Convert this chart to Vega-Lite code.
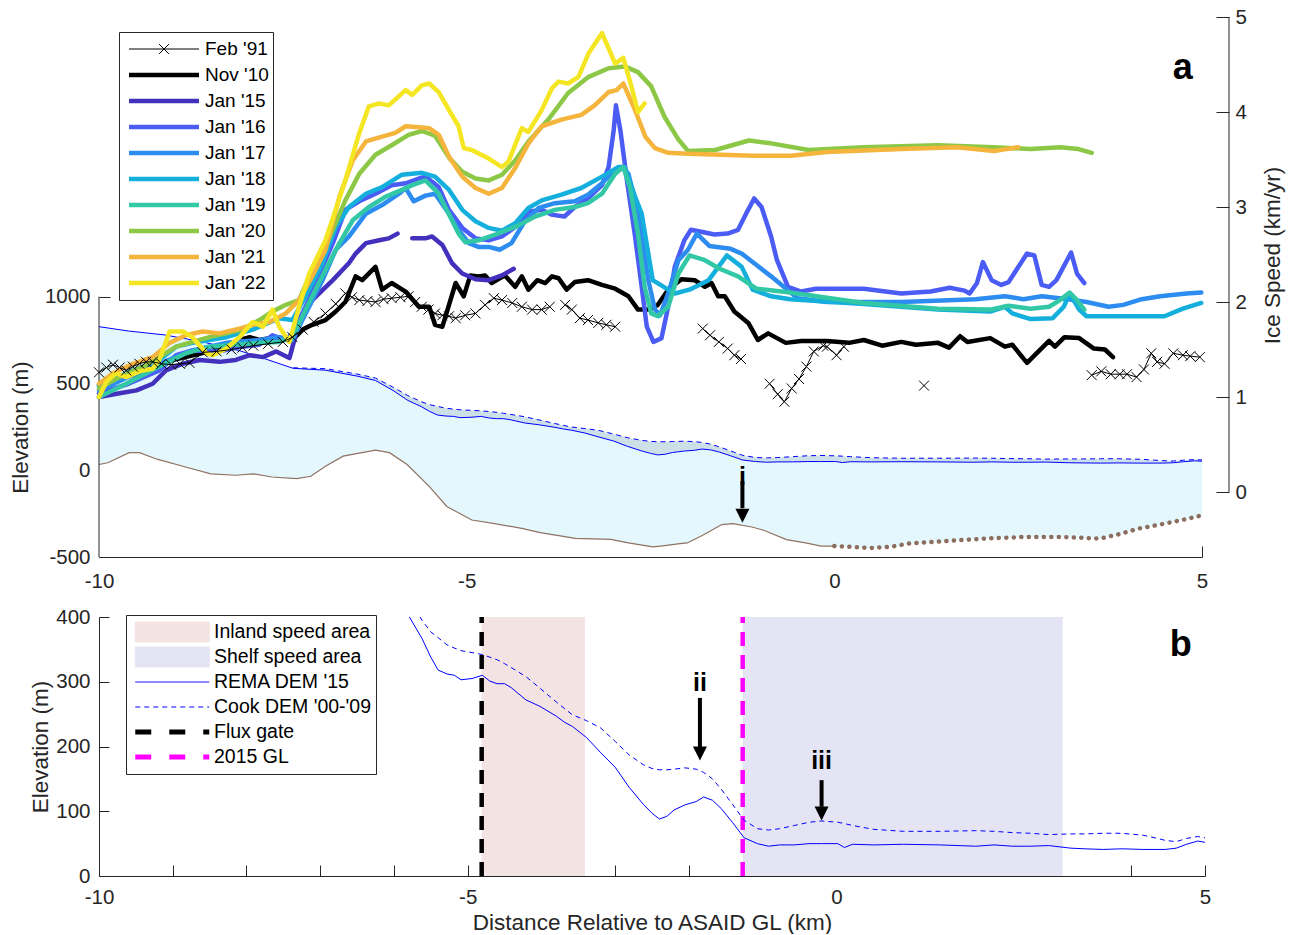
{
"$schema":"https://vega.github.io/schema/vega-lite/v6.json",
"padding":{"left":9,"top":7,"right":5,"bottom":0},
"spacing":15,
"config":{"font":"Liberation Sans","view":{"stroke":null},
"axis":{"domainColor":"#262626","tickColor":"#262626","labelColor":"#262626","titleColor":"#262626","labelFontSize":20.5,"titleFontSize":22.5,"titleFontWeight":"normal","labelFont":"Liberation Sans","titleFont":"Liberation Sans","grid":false,"zindex":1,"labelFlush":false,"labelOverlap":false},
"legend":{"labelFont":"Liberation Sans","labelColor":"#000000"}},
"resolve":{"scale":{"x":"independent","y":"independent","color":"independent"},"legend":{"color":"independent"}},
"datasets":{
"surf":[
{"k":-10,"r":827,"c":null},{"k":-9.6,"r":802,"c":null},{"k":-9.1,"r":779,"c":null},{"k":-8.6,"r":740,"c":null},{"k":-8.1,"r":690,"c":null},{"k":-7.75,"r":643,"c":null},{"k":-7.36,"r":587,"c":590},{"k":-6.92,"r":576,"c":585},{"k":-6.5,"r":543,"c":555},{"k":-6.24,"r":517,"c":531},{"k":-6.0,"r":459,"c":478},{"k":-5.8,"r":402,"c":430},{"k":-5.62,"r":367,"c":395},{"k":-5.5,"r":338,"c":377},{"k":-5.4,"r":318,"c":368},{"k":-5.28,"r":312,"c":357},{"k":-5.18,"r":310,"c":352},{"k":-5.09,"r":303,"c":348},{"k":-4.94,"r":305,"c":345},{"k":-4.8,"r":310,"c":342},{"k":-4.7,"r":301,"c":338},{"k":-4.6,"r":297,"c":334},{"k":-4.5,"r":297,"c":328},{"k":-4.41,"r":291,"c":322},{"k":-4.21,"r":272,"c":308},{"k":-4.02,"r":262,"c":290},{"k":-3.8,"r":247,"c":269},{"k":-3.68,"r":237,"c":258},{"k":-3.58,"r":231,"c":249},{"k":-3.39,"r":214,"c":240},{"k":-3.2,"r":191,"c":229},{"k":-3.0,"r":168,"c":208},{"k":-2.81,"r":137,"c":187},{"k":-2.62,"r":111,"c":172},{"k":-2.5,"r":97,"c":166},{"k":-2.4,"r":88,"c":164},{"k":-2.3,"r":92,"c":164},{"k":-2.2,"r":102,"c":165},{"k":-2.05,"r":110,"c":167},{"k":-1.9,"r":115,"c":165},{"k":-1.8,"r":122,"c":160},{"k":-1.68,"r":117,"c":150},{"k":-1.56,"r":104,"c":134},{"k":-1.41,"r":83,"c":111},{"k":-1.25,"r":59,"c":86},{"k":-1.07,"r":50,"c":73},{"k":-0.92,"r":46,"c":71},{"k":-0.77,"r":48,"c":73},{"k":-0.57,"r":48,"c":78},{"k":-0.37,"r":50,"c":83},{"k":-0.2,"r":50,"c":85},{"k":0.02,"r":50,"c":83},{"k":0.11,"r":44,"c":81},{"k":0.22,"r":49,"c":78},{"k":0.51,"r":48,"c":72},{"k":0.91,"r":49,"c":69},{"k":1.4,"r":48,"c":69},{"k":1.89,"r":46,"c":70},{"k":2.14,"r":48,"c":69},{"k":2.39,"r":46,"c":67},{"k":2.63,"r":46,"c":66},{"k":2.88,"r":47,"c":64},{"k":3.18,"r":43,"c":65},{"k":3.37,"r":42,"c":65},{"k":3.62,"r":41,"c":66},{"k":3.87,"r":42,"c":66},{"k":4.16,"r":41,"c":63},{"k":4.36,"r":41,"c":58},{"k":4.46,"r":41,"c":55},{"k":4.61,"r":43,"c":53},{"k":4.75,"r":49,"c":58},{"k":4.9,"r":54,"c":61},{"k":5.0,"r":52,"c":59}],
"bed":[
{"k":-10,"b":33,"p":"s"},{"k":-9.88,"b":43,"p":"s"},{"k":-9.59,"b":101,"p":"s"},{"k":-9.45,"b":101,"p":"s"},{"k":-9.2,"b":62,"p":"s"},{"k":-8.86,"b":23,"p":"s"},{"k":-8.48,"b":-21,"p":"s"},{"k":-8.14,"b":-29,"p":"s"},{"k":-7.9,"b":-21,"p":"s"},{"k":-7.65,"b":-39,"p":"s"},{"k":-7.31,"b":-48,"p":"s"},{"k":-7.12,"b":-35,"p":"s"},{"k":-6.92,"b":23,"p":"s"},{"k":-6.68,"b":81,"p":"s"},{"k":-6.24,"b":116,"p":"s"},{"k":-6.05,"b":101,"p":"s"},{"k":-5.81,"b":33,"p":"s"},{"k":-5.51,"b":-93,"p":"s"},{"k":-5.27,"b":-209,"p":"s"},{"k":-4.93,"b":-287,"p":"s"},{"k":-4.64,"b":-306,"p":"s"},{"k":-4.25,"b":-335,"p":"s"},{"k":-4.0,"b":-360,"p":"s"},{"k":-3.52,"b":-393,"p":"s"},{"k":-3.04,"b":-399,"p":"s"},{"k":-2.8,"b":-419,"p":"s"},{"k":-2.47,"b":-442,"p":"s"},{"k":-2.36,"b":-437,"p":"s"},{"k":-2.1,"b":-423,"p":"s"},{"k":-2.0,"b":-419,"p":"s"},{"k":-1.79,"b":-375,"p":"s"},{"k":-1.53,"b":-313,"p":"s"},{"k":-1.38,"b":-308,"p":"s"},{"k":-1.12,"b":-327,"p":"s"},{"k":-0.96,"b":-346,"p":"s"},{"k":-0.65,"b":-400,"p":"s"},{"k":-0.39,"b":-419,"p":"s"},{"k":-0.18,"b":-437,"p":"s"},{"k":0,"b":-437,"p":"s"},
{"k":0,"b":-437,"p":"d"},{"k":0.49,"b":-448,"p":"d"},{"k":0.75,"b":-442,"p":"d"},{"k":1.01,"b":-423,"p":"d"},{"k":1.53,"b":-408,"p":"d"},{"k":2.05,"b":-394,"p":"d"},{"k":2.57,"b":-385,"p":"d"},{"k":3.09,"b":-385,"p":"d"},{"k":3.61,"b":-394,"p":"d"},{"k":3.87,"b":-369,"p":"d"},{"k":4.13,"b":-337,"p":"d"},{"k":4.44,"b":-312,"p":"d"},{"k":4.75,"b":-285,"p":"d"},{"k":5.0,"b":-260,"p":"d"}],
"arrA":[{"k":-1.25,"a1":-62,"a2":-219,"hy":-262,"ty":-38,"t":"i"}],
"arrB":[{"k":-1.85,"a1":275,"a2":199,"hy":189,"ty":298,"t":"ii"},{"k":-0.2,"a1":148,"a2":107,"hy":96.5,"ty":178,"t":"iii"}],
"zones":[{"item":"Inland speed area","k1":-4.81,"k2":-3.41},{"item":"Shelf speed area","k1":-1.27,"k2":3.07}],
"gates":[{"item":"Flux gate","k":-4.81},{"item":"2015 GL","k":-1.27}],
"spd":[
{"s":"Nov '10","g":0,"k":-10,"v":1.13},{"s":"Nov '10","g":0,"k":-9.54,"v":1.23},{"s":"Nov '10","g":0,"k":-9.0,"v":1.39},{"s":"Nov '10","g":0,"k":-8.45,"v":1.49},{"s":"Nov '10","g":0,"k":-8.09,"v":1.6},{"s":"Nov '10","g":0,"k":-7.95,"v":1.63},{"s":"Nov '10","g":0,"k":-7.82,"v":1.6},{"s":"Nov '10","g":0,"k":-7.68,"v":1.62},{"s":"Nov '10","g":0,"k":-7.55,"v":1.62},{"s":"Nov '10","g":0,"k":-7.37,"v":1.6},{"s":"Nov '10","g":0,"k":-7.23,"v":1.71},{"s":"Nov '10","g":0,"k":-7.1,"v":1.76},{"s":"Nov '10","g":0,"k":-6.92,"v":1.81},{"s":"Nov '10","g":0,"k":-6.78,"v":1.9},{"s":"Nov '10","g":0,"k":-6.65,"v":2.0},{"s":"Nov '10","g":0,"k":-6.51,"v":2.27},{"s":"Nov '10","g":0,"k":-6.42,"v":2.23},{"s":"Nov '10","g":0,"k":-6.24,"v":2.37},{"s":"Nov '10","g":0,"k":-6.15,"v":2.13},{"s":"Nov '10","g":0,"k":-6.02,"v":2.2},{"s":"Nov '10","g":0,"k":-5.83,"v":2.11},{"s":"Nov '10","g":0,"k":-5.65,"v":1.95},{"s":"Nov '10","g":0,"k":-5.51,"v":1.95},{"s":"Nov '10","g":0,"k":-5.43,"v":1.76},{"s":"Nov '10","g":0,"k":-5.33,"v":1.74},{"s":"Nov '10","g":0,"k":-5.15,"v":2.2},{"s":"Nov '10","g":0,"k":-5.04,"v":2.06},{"s":"Nov '10","g":0,"k":-4.95,"v":2.28},{"s":"Nov '10","g":0,"k":-4.84,"v":2.27},{"s":"Nov '10","g":0,"k":-4.75,"v":2.28},{"s":"Nov '10","g":0,"k":-4.66,"v":2.2},{"s":"Nov '10","g":0,"k":-4.48,"v":2.28},{"s":"Nov '10","g":0,"k":-4.34,"v":2.16},{"s":"Nov '10","g":0,"k":-4.25,"v":2.27},{"s":"Nov '10","g":0,"k":-4.16,"v":2.13},{"s":"Nov '10","g":0,"k":-4.04,"v":2.23},{"s":"Nov '10","g":0,"k":-3.93,"v":2.2},{"s":"Nov '10","g":0,"k":-3.84,"v":2.27},{"s":"Nov '10","g":0,"k":-3.75,"v":2.25},{"s":"Nov '10","g":0,"k":-3.64,"v":2.13},{"s":"Nov '10","g":0,"k":-3.53,"v":2.21},{"s":"Nov '10","g":0,"k":-3.35,"v":2.23},{"s":"Nov '10","g":0,"k":-3.16,"v":2.18},{"s":"Nov '10","g":0,"k":-2.98,"v":2.14},{"s":"Nov '10","g":0,"k":-2.8,"v":2.06},{"s":"Nov '10","g":0,"k":-2.67,"v":1.92},{"s":"Nov '10","g":0,"k":-2.53,"v":1.92},{"s":"Nov '10","g":0,"k":-2.4,"v":1.97},{"s":"Nov '10","g":0,"k":-2.26,"v":2.13},{"s":"Nov '10","g":0,"k":-2.08,"v":2.24},{"s":"Nov '10","g":0,"k":-1.9,"v":2.23},{"s":"Nov '10","g":0,"k":-1.76,"v":2.16},{"s":"Nov '10","g":0,"k":-1.67,"v":2.2},{"s":"Nov '10","g":0,"k":-1.58,"v":2.06},{"s":"Nov '10","g":0,"k":-1.49,"v":2.06},{"s":"Nov '10","g":0,"k":-1.36,"v":1.9},{"s":"Nov '10","g":0,"k":-1.17,"v":1.78},{"s":"Nov '10","g":0,"k":-1.04,"v":1.6},{"s":"Nov '10","g":0,"k":-0.9,"v":1.67},{"s":"Nov '10","g":0,"k":-0.66,"v":1.57},{"s":"Nov '10","g":0,"k":-0.45,"v":1.59},{"s":"Nov '10","g":0,"k":-0.1,"v":1.59},{"s":"Nov '10","g":0,"k":0.2,"v":1.57},{"s":"Nov '10","g":0,"k":0.4,"v":1.6},{"s":"Nov '10","g":0,"k":0.65,"v":1.54},{"s":"Nov '10","g":0,"k":0.91,"v":1.58},{"s":"Nov '10","g":0,"k":1.11,"v":1.55},{"s":"Nov '10","g":0,"k":1.41,"v":1.57},{"s":"Nov '10","g":0,"k":1.56,"v":1.52},{"s":"Nov '10","g":0,"k":1.71,"v":1.64},{"s":"Nov '10","g":0,"k":1.81,"v":1.58},{"s":"Nov '10","g":0,"k":2.12,"v":1.62},{"s":"Nov '10","g":0,"k":2.32,"v":1.53},{"s":"Nov '10","g":0,"k":2.42,"v":1.55},{"s":"Nov '10","g":0,"k":2.62,"v":1.36},{"s":"Nov '10","g":0,"k":2.92,"v":1.59},{"s":"Nov '10","g":0,"k":3.0,"v":1.53},{"s":"Nov '10","g":0,"k":3.13,"v":1.63},{"s":"Nov '10","g":0,"k":3.33,"v":1.62},{"s":"Nov '10","g":0,"k":3.53,"v":1.51},{"s":"Nov '10","g":0,"k":3.68,"v":1.5},{"s":"Nov '10","g":0,"k":3.79,"v":1.42},
{"s":"Jan '15","g":0,"k":-10,"v":1.0},{"s":"Jan '15","g":0,"k":-9.72,"v":1.04},{"s":"Jan '15","g":0,"k":-9.49,"v":1.07},{"s":"Jan '15","g":0,"k":-9.27,"v":1.14},{"s":"Jan '15","g":0,"k":-9.09,"v":1.28},{"s":"Jan '15","g":0,"k":-8.86,"v":1.35},{"s":"Jan '15","g":0,"k":-8.63,"v":1.39},{"s":"Jan '15","g":0,"k":-8.36,"v":1.37},{"s":"Jan '15","g":0,"k":-8.14,"v":1.39},{"s":"Jan '15","g":0,"k":-7.95,"v":1.44},{"s":"Jan '15","g":0,"k":-7.77,"v":1.42},{"s":"Jan '15","g":0,"k":-7.59,"v":1.48},{"s":"Jan '15","g":0,"k":-7.41,"v":1.41},{"s":"Jan '15","g":0,"k":-7.28,"v":1.78},{"s":"Jan '15","g":0,"k":-7.1,"v":2.02},{"s":"Jan '15","g":0,"k":-6.82,"v":2.23},{"s":"Jan '15","g":0,"k":-6.6,"v":2.41},{"s":"Jan '15","g":0,"k":-6.51,"v":2.51},{"s":"Jan '15","g":0,"k":-6.37,"v":2.62},{"s":"Jan '15","g":0,"k":-6.19,"v":2.65},{"s":"Jan '15","g":0,"k":-6.06,"v":2.67},{"s":"Jan '15","g":0,"k":-5.94,"v":2.72},
{"s":"Jan '15","g":1,"k":-5.74,"v":2.67},{"s":"Jan '15","g":1,"k":-5.56,"v":2.67},{"s":"Jan '15","g":1,"k":-5.47,"v":2.69},{"s":"Jan '15","g":1,"k":-5.33,"v":2.6},{"s":"Jan '15","g":1,"k":-5.2,"v":2.41},{"s":"Jan '15","g":1,"k":-5.06,"v":2.3},{"s":"Jan '15","g":1,"k":-4.88,"v":2.24},{"s":"Jan '15","g":1,"k":-4.7,"v":2.23},{"s":"Jan '15","g":1,"k":-4.52,"v":2.28},{"s":"Jan '15","g":1,"k":-4.36,"v":2.35},
{"s":"Jan '16","g":0,"k":-10,"v":1.04},{"s":"Jan '16","g":0,"k":-9.63,"v":1.13},{"s":"Jan '16","g":0,"k":-9.18,"v":1.28},{"s":"Jan '16","g":0,"k":-8.95,"v":1.44},{"s":"Jan '16","g":0,"k":-8.73,"v":1.49},{"s":"Jan '16","g":0,"k":-8.36,"v":1.48},{"s":"Jan '16","g":0,"k":-8.05,"v":1.53},{"s":"Jan '16","g":0,"k":-7.82,"v":1.55},{"s":"Jan '16","g":0,"k":-7.64,"v":1.65},{"s":"Jan '16","g":0,"k":-7.46,"v":1.6},{"s":"Jan '16","g":0,"k":-7.37,"v":1.67},{"s":"Jan '16","g":0,"k":-7.19,"v":1.95},{"s":"Jan '16","g":0,"k":-7.0,"v":2.3},{"s":"Jan '16","g":0,"k":-6.82,"v":2.62},{"s":"Jan '16","g":0,"k":-6.65,"v":2.97},{"s":"Jan '16","g":0,"k":-6.46,"v":3.06},{"s":"Jan '16","g":0,"k":-6.24,"v":3.14},{"s":"Jan '16","g":0,"k":-6.02,"v":3.23},{"s":"Jan '16","g":0,"k":-5.83,"v":3.25},{"s":"Jan '16","g":0,"k":-5.65,"v":3.3},{"s":"Jan '16","g":0,"k":-5.56,"v":3.32},{"s":"Jan '16","g":0,"k":-5.38,"v":3.21},{"s":"Jan '16","g":0,"k":-5.24,"v":2.97},{"s":"Jan '16","g":0,"k":-5.06,"v":2.78},{"s":"Jan '16","g":0,"k":-4.88,"v":2.67},{"s":"Jan '16","g":0,"k":-4.7,"v":2.65},{"s":"Jan '16","g":0,"k":-4.52,"v":2.69},{"s":"Jan '16","g":0,"k":-4.34,"v":2.79},{"s":"Jan '16","g":0,"k":-4.16,"v":2.95},{"s":"Jan '16","g":0,"k":-3.98,"v":2.97},{"s":"Jan '16","g":0,"k":-3.85,"v":2.92},{"s":"Jan '16","g":0,"k":-3.67,"v":2.9},{"s":"Jan '16","g":0,"k":-3.53,"v":3.0},{"s":"Jan '16","g":0,"k":-3.35,"v":3.09},{"s":"Jan '16","g":0,"k":-3.16,"v":3.23},{"s":"Jan '16","g":0,"k":-3.07,"v":3.42},{"s":"Jan '16","g":0,"k":-3.0,"v":3.81},{"s":"Jan '16","g":0,"k":-2.97,"v":4.07},{"s":"Jan '16","g":0,"k":-2.91,"v":3.81},{"s":"Jan '16","g":0,"k":-2.82,"v":3.28},{"s":"Jan '16","g":0,"k":-2.71,"v":2.69},{"s":"Jan '16","g":0,"k":-2.62,"v":2.16},{"s":"Jan '16","g":0,"k":-2.55,"v":1.74},{"s":"Jan '16","g":0,"k":-2.46,"v":1.58},{"s":"Jan '16","g":0,"k":-2.35,"v":1.62},{"s":"Jan '16","g":0,"k":-2.26,"v":1.95},{"s":"Jan '16","g":0,"k":-2.17,"v":2.37},{"s":"Jan '16","g":0,"k":-2.04,"v":2.65},{"s":"Jan '16","g":0,"k":-1.95,"v":2.76},{"s":"Jan '16","g":0,"k":-1.81,"v":2.74},{"s":"Jan '16","g":0,"k":-1.63,"v":2.71},{"s":"Jan '16","g":0,"k":-1.45,"v":2.72},{"s":"Jan '16","g":0,"k":-1.31,"v":2.76},{"s":"Jan '16","g":0,"k":-1.2,"v":2.93},{"s":"Jan '16","g":0,"k":-1.09,"v":3.09},{"s":"Jan '16","g":0,"k":-0.99,"v":3.0},{"s":"Jan '16","g":0,"k":-0.86,"v":2.69},{"s":"Jan '16","g":0,"k":-0.78,"v":2.44},{"s":"Jan '16","g":0,"k":-0.63,"v":2.16},{"s":"Jan '16","g":0,"k":-0.45,"v":2.11},{"s":"Jan '16","g":0,"k":-0.25,"v":2.14},{"s":"Jan '16","g":0,"k":0.4,"v":2.14},{"s":"Jan '16","g":0,"k":0.91,"v":2.09},{"s":"Jan '16","g":0,"k":1.31,"v":2.11},{"s":"Jan '16","g":0,"k":1.57,"v":2.15},{"s":"Jan '16","g":0,"k":1.77,"v":2.12},{"s":"Jan '16","g":0,"k":1.84,"v":2.09},{"s":"Jan '16","g":0,"k":1.94,"v":2.2},{"s":"Jan '16","g":0,"k":2.02,"v":2.42},{"s":"Jan '16","g":0,"k":2.14,"v":2.23},{"s":"Jan '16","g":0,"k":2.27,"v":2.18},{"s":"Jan '16","g":0,"k":2.37,"v":2.21},{"s":"Jan '16","g":0,"k":2.62,"v":2.51},{"s":"Jan '16","g":0,"k":2.72,"v":2.49},{"s":"Jan '16","g":0,"k":2.82,"v":2.18},{"s":"Jan '16","g":0,"k":2.92,"v":2.16},{"s":"Jan '16","g":0,"k":3.02,"v":2.23},{"s":"Jan '16","g":0,"k":3.22,"v":2.52},{"s":"Jan '16","g":0,"k":3.3,"v":2.3},{"s":"Jan '16","g":0,"k":3.4,"v":2.2},
{"s":"Jan '17","g":0,"k":-10,"v":1.07},{"s":"Jan '17","g":0,"k":-9.63,"v":1.2},{"s":"Jan '17","g":0,"k":-9.18,"v":1.35},{"s":"Jan '17","g":0,"k":-8.73,"v":1.49},{"s":"Jan '17","g":0,"k":-8.27,"v":1.57},{"s":"Jan '17","g":0,"k":-7.82,"v":1.6},{"s":"Jan '17","g":0,"k":-7.55,"v":1.63},{"s":"Jan '17","g":0,"k":-7.37,"v":1.6},{"s":"Jan '17","g":0,"k":-7.19,"v":1.88},{"s":"Jan '17","g":0,"k":-6.96,"v":2.23},{"s":"Jan '17","g":0,"k":-6.78,"v":2.55},{"s":"Jan '17","g":0,"k":-6.6,"v":2.69},{"s":"Jan '17","g":0,"k":-6.37,"v":2.93},{"s":"Jan '17","g":0,"k":-6.15,"v":3.02},{"s":"Jan '17","g":0,"k":-5.92,"v":3.14},{"s":"Jan '17","g":0,"k":-5.83,"v":3.2},{"s":"Jan '17","g":0,"k":-5.72,"v":3.06},{"s":"Jan '17","g":0,"k":-5.56,"v":3.12},{"s":"Jan '17","g":0,"k":-5.43,"v":3.14},{"s":"Jan '17","g":0,"k":-5.24,"v":2.93},{"s":"Jan '17","g":0,"k":-5.11,"v":2.76},{"s":"Jan '17","g":0,"k":-4.97,"v":2.62},{"s":"Jan '17","g":0,"k":-4.84,"v":2.58},{"s":"Jan '17","g":0,"k":-4.7,"v":2.58},{"s":"Jan '17","g":0,"k":-4.55,"v":2.55},{"s":"Jan '17","g":0,"k":-4.39,"v":2.62},{"s":"Jan '17","g":0,"k":-4.21,"v":2.85},{"s":"Jan '17","g":0,"k":-4.02,"v":2.99},{"s":"Jan '17","g":0,"k":-3.8,"v":3.04},{"s":"Jan '17","g":0,"k":-3.53,"v":3.06},{"s":"Jan '17","g":0,"k":-3.35,"v":3.13},{"s":"Jan '17","g":0,"k":-3.16,"v":3.25},{"s":"Jan '17","g":0,"k":-2.98,"v":3.39},{"s":"Jan '17","g":0,"k":-2.89,"v":3.42},{"s":"Jan '17","g":0,"k":-2.8,"v":3.35},{"s":"Jan '17","g":0,"k":-2.67,"v":2.93},{"s":"Jan '17","g":0,"k":-2.53,"v":2.23},{"s":"Jan '17","g":0,"k":-2.44,"v":1.92},{"s":"Jan '17","g":0,"k":-2.37,"v":1.86},{"s":"Jan '17","g":0,"k":-2.26,"v":2.09},{"s":"Jan '17","g":0,"k":-2.12,"v":2.44},{"s":"Jan '17","g":0,"k":-1.99,"v":2.55},{"s":"Jan '17","g":0,"k":-1.87,"v":2.72},{"s":"Jan '17","g":0,"k":-1.7,"v":2.59},{"s":"Jan '17","g":0,"k":-1.41,"v":2.56},{"s":"Jan '17","g":0,"k":-1.26,"v":2.51},{"s":"Jan '17","g":0,"k":-0.86,"v":2.27},{"s":"Jan '17","g":0,"k":-0.5,"v":2.04},{"s":"Jan '17","g":0,"k":-0.1,"v":2.0},{"s":"Jan '17","g":0,"k":0.91,"v":2.0},{"s":"Jan '17","g":0,"k":1.92,"v":2.03},{"s":"Jan '17","g":0,"k":2.32,"v":2.06},{"s":"Jan '17","g":0,"k":2.57,"v":2.03},{"s":"Jan '17","g":0,"k":2.82,"v":2.06},{"s":"Jan '17","g":0,"k":3.18,"v":2.03},{"s":"Jan '17","g":0,"k":3.43,"v":2.0},{"s":"Jan '17","g":0,"k":3.73,"v":1.95},{"s":"Jan '17","g":0,"k":3.93,"v":1.97},{"s":"Jan '17","g":0,"k":4.18,"v":2.03},{"s":"Jan '17","g":0,"k":4.43,"v":2.06},{"s":"Jan '17","g":0,"k":4.79,"v":2.09},{"s":"Jan '17","g":0,"k":4.99,"v":2.1},
{"s":"Jan '18","g":0,"k":-10,"v":1.11},{"s":"Jan '18","g":0,"k":-9.63,"v":1.25},{"s":"Jan '18","g":0,"k":-9.18,"v":1.39},{"s":"Jan '18","g":0,"k":-8.95,"v":1.53},{"s":"Jan '18","g":0,"k":-8.73,"v":1.57},{"s":"Jan '18","g":0,"k":-8.27,"v":1.63},{"s":"Jan '18","g":0,"k":-7.91,"v":1.71},{"s":"Jan '18","g":0,"k":-7.55,"v":1.83},{"s":"Jan '18","g":0,"k":-7.37,"v":1.81},{"s":"Jan '18","g":0,"k":-7.19,"v":2.06},{"s":"Jan '18","g":0,"k":-6.96,"v":2.41},{"s":"Jan '18","g":0,"k":-6.78,"v":2.79},{"s":"Jan '18","g":0,"k":-6.6,"v":3.0},{"s":"Jan '18","g":0,"k":-6.37,"v":3.14},{"s":"Jan '18","g":0,"k":-6.15,"v":3.21},{"s":"Jan '18","g":0,"k":-5.88,"v":3.34},{"s":"Jan '18","g":0,"k":-5.61,"v":3.36},{"s":"Jan '18","g":0,"k":-5.43,"v":3.32},{"s":"Jan '18","g":0,"k":-5.24,"v":3.18},{"s":"Jan '18","g":0,"k":-5.06,"v":2.97},{"s":"Jan '18","g":0,"k":-4.88,"v":2.85},{"s":"Jan '18","g":0,"k":-4.7,"v":2.78},{"s":"Jan '18","g":0,"k":-4.52,"v":2.75},{"s":"Jan '18","g":0,"k":-4.34,"v":2.83},{"s":"Jan '18","g":0,"k":-4.16,"v":2.99},{"s":"Jan '18","g":0,"k":-3.98,"v":3.07},{"s":"Jan '18","g":0,"k":-3.71,"v":3.13},{"s":"Jan '18","g":0,"k":-3.44,"v":3.2},{"s":"Jan '18","g":0,"k":-3.16,"v":3.32},{"s":"Jan '18","g":0,"k":-2.94,"v":3.42},{"s":"Jan '18","g":0,"k":-2.85,"v":3.42},{"s":"Jan '18","g":0,"k":-2.71,"v":3.11},{"s":"Jan '18","g":0,"k":-2.62,"v":2.93},{"s":"Jan '18","g":0,"k":-2.47,"v":2.23},{"s":"Jan '18","g":0,"k":-2.32,"v":2.16},{"s":"Jan '18","g":0,"k":-2.17,"v":2.09},{"s":"Jan '18","g":0,"k":-1.97,"v":2.13},{"s":"Jan '18","g":0,"k":-1.71,"v":2.23},{"s":"Jan '18","g":0,"k":-1.46,"v":2.49},{"s":"Jan '18","g":0,"k":-1.26,"v":2.37},{"s":"Jan '18","g":0,"k":-1.11,"v":2.13},{"s":"Jan '18","g":0,"k":-0.86,"v":2.06},{"s":"Jan '18","g":0,"k":-0.6,"v":2.03},{"s":"Jan '18","g":0,"k":0.4,"v":1.98},{"s":"Jan '18","g":0,"k":1.41,"v":1.92},{"s":"Jan '18","g":0,"k":2.12,"v":1.9},{"s":"Jan '18","g":0,"k":2.32,"v":1.95},{"s":"Jan '18","g":0,"k":2.42,"v":1.88},{"s":"Jan '18","g":0,"k":2.67,"v":1.82},{"s":"Jan '18","g":0,"k":2.97,"v":1.83},{"s":"Jan '18","g":0,"k":3.12,"v":1.95},{"s":"Jan '18","g":0,"k":3.2,"v":2.09},{"s":"Jan '18","g":0,"k":3.33,"v":1.92},{"s":"Jan '18","g":0,"k":3.43,"v":1.85},{"s":"Jan '18","g":0,"k":3.93,"v":1.85},{"s":"Jan '18","g":0,"k":4.49,"v":1.85},{"s":"Jan '18","g":0,"k":4.74,"v":1.93},{"s":"Jan '18","g":0,"k":4.99,"v":1.99},
{"s":"Jan '19","g":0,"k":-10,"v":1.0},{"s":"Jan '19","g":0,"k":-9.63,"v":1.14},{"s":"Jan '19","g":0,"k":-9.18,"v":1.32},{"s":"Jan '19","g":0,"k":-8.82,"v":1.46},{"s":"Jan '19","g":0,"k":-8.5,"v":1.53},{"s":"Jan '19","g":0,"k":-8.14,"v":1.55},{"s":"Jan '19","g":0,"k":-7.82,"v":1.57},{"s":"Jan '19","g":0,"k":-7.55,"v":1.58},{"s":"Jan '19","g":0,"k":-7.37,"v":1.63},{"s":"Jan '19","g":0,"k":-7.19,"v":1.92},{"s":"Jan '19","g":0,"k":-6.92,"v":2.34},{"s":"Jan '19","g":0,"k":-6.73,"v":2.62},{"s":"Jan '19","g":0,"k":-6.55,"v":2.86},{"s":"Jan '19","g":0,"k":-6.33,"v":3.0},{"s":"Jan '19","g":0,"k":-6.1,"v":3.11},{"s":"Jan '19","g":0,"k":-5.88,"v":3.18},{"s":"Jan '19","g":0,"k":-5.74,"v":3.23},{"s":"Jan '19","g":0,"k":-5.56,"v":3.28},{"s":"Jan '19","g":0,"k":-5.38,"v":3.14},{"s":"Jan '19","g":0,"k":-5.24,"v":2.92},{"s":"Jan '19","g":0,"k":-5.11,"v":2.72},{"s":"Jan '19","g":0,"k":-5.02,"v":2.63},{"s":"Jan '19","g":0,"k":-4.84,"v":2.65},{"s":"Jan '19","g":0,"k":-4.61,"v":2.71},{"s":"Jan '19","g":0,"k":-4.34,"v":2.79},{"s":"Jan '19","g":0,"k":-4.07,"v":2.9},{"s":"Jan '19","g":0,"k":-3.8,"v":2.97},{"s":"Jan '19","g":0,"k":-3.53,"v":3.0},{"s":"Jan '19","g":0,"k":-3.35,"v":3.04},{"s":"Jan '19","g":0,"k":-3.16,"v":3.14},{"s":"Jan '19","g":0,"k":-2.98,"v":3.35},{"s":"Jan '19","g":0,"k":-2.87,"v":3.42},{"s":"Jan '19","g":0,"k":-2.78,"v":3.21},{"s":"Jan '19","g":0,"k":-2.67,"v":2.72},{"s":"Jan '19","g":0,"k":-2.58,"v":2.16},{"s":"Jan '19","g":0,"k":-2.49,"v":1.88},{"s":"Jan '19","g":0,"k":-2.4,"v":1.85},{"s":"Jan '19","g":0,"k":-2.26,"v":1.95},{"s":"Jan '19","g":0,"k":-2.12,"v":2.3},{"s":"Jan '19","g":0,"k":-1.97,"v":2.49},{"s":"Jan '19","g":0,"k":-1.76,"v":2.44},{"s":"Jan '19","g":0,"k":-1.56,"v":2.35},{"s":"Jan '19","g":0,"k":-1.31,"v":2.27},{"s":"Jan '19","g":0,"k":-1.06,"v":2.14},{"s":"Jan '19","g":0,"k":-0.6,"v":2.1},{"s":"Jan '19","g":0,"k":0.4,"v":1.99},{"s":"Jan '19","g":0,"k":1.41,"v":1.93},{"s":"Jan '19","g":0,"k":2.12,"v":1.92},{"s":"Jan '19","g":0,"k":2.37,"v":1.96},{"s":"Jan '19","g":0,"k":2.67,"v":1.93},{"s":"Jan '19","g":0,"k":2.92,"v":1.95},{"s":"Jan '19","g":0,"k":3.07,"v":2.02},{"s":"Jan '19","g":0,"k":3.2,"v":2.1},{"s":"Jan '19","g":0,"k":3.3,"v":2.02},{"s":"Jan '19","g":0,"k":3.4,"v":1.92},
{"s":"Jan '20","g":0,"k":-10,"v":1.09},{"s":"Jan '20","g":0,"k":-9.72,"v":1.21},{"s":"Jan '20","g":0,"k":-9.4,"v":1.32},{"s":"Jan '20","g":0,"k":-9.18,"v":1.42},{"s":"Jan '20","g":0,"k":-8.95,"v":1.53},{"s":"Jan '20","g":0,"k":-8.73,"v":1.58},{"s":"Jan '20","g":0,"k":-8.5,"v":1.63},{"s":"Jan '20","g":0,"k":-8.27,"v":1.67},{"s":"Jan '20","g":0,"k":-8.05,"v":1.71},{"s":"Jan '20","g":0,"k":-7.82,"v":1.81},{"s":"Jan '20","g":0,"k":-7.64,"v":1.9},{"s":"Jan '20","g":0,"k":-7.46,"v":1.97},{"s":"Jan '20","g":0,"k":-7.28,"v":2.02},{"s":"Jan '20","g":0,"k":-7.1,"v":2.34},{"s":"Jan '20","g":0,"k":-6.92,"v":2.58},{"s":"Jan '20","g":0,"k":-6.65,"v":3.07},{"s":"Jan '20","g":0,"k":-6.46,"v":3.35},{"s":"Jan '20","g":0,"k":-6.24,"v":3.55},{"s":"Jan '20","g":0,"k":-6.02,"v":3.65},{"s":"Jan '20","g":0,"k":-5.79,"v":3.76},{"s":"Jan '20","g":0,"k":-5.61,"v":3.8},{"s":"Jan '20","g":0,"k":-5.43,"v":3.75},{"s":"Jan '20","g":0,"k":-5.24,"v":3.52},{"s":"Jan '20","g":0,"k":-5.06,"v":3.37},{"s":"Jan '20","g":0,"k":-4.88,"v":3.3},{"s":"Jan '20","g":0,"k":-4.7,"v":3.28},{"s":"Jan '20","g":0,"k":-4.52,"v":3.34},{"s":"Jan '20","g":0,"k":-4.34,"v":3.49},{"s":"Jan '20","g":0,"k":-4.16,"v":3.69},{"s":"Jan '20","g":0,"k":-3.89,"v":3.92},{"s":"Jan '20","g":0,"k":-3.62,"v":4.2},{"s":"Jan '20","g":0,"k":-3.34,"v":4.37},{"s":"Jan '20","g":0,"k":-3.07,"v":4.46},{"s":"Jan '20","g":0,"k":-2.85,"v":4.48},{"s":"Jan '20","g":0,"k":-2.67,"v":4.42},{"s":"Jan '20","g":0,"k":-2.49,"v":4.27},{"s":"Jan '20","g":0,"k":-2.31,"v":3.95},{"s":"Jan '20","g":0,"k":-2.12,"v":3.71},{"s":"Jan '20","g":0,"k":-1.99,"v":3.59},{"s":"Jan '20","g":0,"k":-1.62,"v":3.6},{"s":"Jan '20","g":0,"k":-1.16,"v":3.7},{"s":"Jan '20","g":0,"k":-0.86,"v":3.67},{"s":"Jan '20","g":0,"k":-0.35,"v":3.6},{"s":"Jan '20","g":0,"k":0.4,"v":3.63},{"s":"Jan '20","g":0,"k":1.41,"v":3.65},{"s":"Jan '20","g":0,"k":2.17,"v":3.63},{"s":"Jan '20","g":0,"k":2.67,"v":3.61},{"s":"Jan '20","g":0,"k":3.07,"v":3.63},{"s":"Jan '20","g":0,"k":3.32,"v":3.61},{"s":"Jan '20","g":0,"k":3.5,"v":3.57},
{"s":"Jan '21","g":0,"k":-10,"v":1.14},{"s":"Jan '21","g":0,"k":-9.81,"v":1.25},{"s":"Jan '21","g":0,"k":-9.54,"v":1.35},{"s":"Jan '21","g":0,"k":-9.27,"v":1.42},{"s":"Jan '21","g":0,"k":-9.04,"v":1.57},{"s":"Jan '21","g":0,"k":-8.82,"v":1.65},{"s":"Jan '21","g":0,"k":-8.59,"v":1.69},{"s":"Jan '21","g":0,"k":-8.36,"v":1.67},{"s":"Jan '21","g":0,"k":-8.14,"v":1.71},{"s":"Jan '21","g":0,"k":-7.91,"v":1.76},{"s":"Jan '21","g":0,"k":-7.68,"v":1.79},{"s":"Jan '21","g":0,"k":-7.46,"v":1.88},{"s":"Jan '21","g":0,"k":-7.28,"v":2.02},{"s":"Jan '21","g":0,"k":-7.1,"v":2.27},{"s":"Jan '21","g":0,"k":-6.92,"v":2.55},{"s":"Jan '21","g":0,"k":-6.73,"v":3.11},{"s":"Jan '21","g":0,"k":-6.55,"v":3.49},{"s":"Jan '21","g":0,"k":-6.37,"v":3.69},{"s":"Jan '21","g":0,"k":-6.15,"v":3.74},{"s":"Jan '21","g":0,"k":-5.97,"v":3.78},{"s":"Jan '21","g":0,"k":-5.83,"v":3.85},{"s":"Jan '21","g":0,"k":-5.65,"v":3.84},{"s":"Jan '21","g":0,"k":-5.51,"v":3.83},{"s":"Jan '21","g":0,"k":-5.38,"v":3.76},{"s":"Jan '21","g":0,"k":-5.24,"v":3.53},{"s":"Jan '21","g":0,"k":-5.06,"v":3.32},{"s":"Jan '21","g":0,"k":-4.88,"v":3.2},{"s":"Jan '21","g":0,"k":-4.7,"v":3.14},{"s":"Jan '21","g":0,"k":-4.52,"v":3.2},{"s":"Jan '21","g":0,"k":-4.34,"v":3.41},{"s":"Jan '21","g":0,"k":-4.16,"v":3.67},{"s":"Jan '21","g":0,"k":-3.98,"v":3.85},{"s":"Jan '21","g":0,"k":-3.71,"v":3.92},{"s":"Jan '21","g":0,"k":-3.44,"v":3.97},{"s":"Jan '21","g":0,"k":-3.26,"v":4.07},{"s":"Jan '21","g":0,"k":-3.07,"v":4.21},{"s":"Jan '21","g":0,"k":-2.96,"v":4.23},{"s":"Jan '21","g":0,"k":-2.87,"v":4.3},{"s":"Jan '21","g":0,"k":-2.71,"v":4.02},{"s":"Jan '21","g":0,"k":-2.57,"v":3.74},{"s":"Jan '21","g":0,"k":-2.44,"v":3.62},{"s":"Jan '21","g":0,"k":-2.26,"v":3.57},{"s":"Jan '21","g":0,"k":-1.99,"v":3.56},{"s":"Jan '21","g":0,"k":-1.54,"v":3.55},{"s":"Jan '21","g":0,"k":-1.09,"v":3.54},{"s":"Jan '21","g":0,"k":-0.59,"v":3.54},{"s":"Jan '21","g":0,"k":-0.1,"v":3.58},{"s":"Jan '21","g":0,"k":0.91,"v":3.61},{"s":"Jan '21","g":0,"k":1.67,"v":3.63},{"s":"Jan '21","g":0,"k":2.17,"v":3.59},{"s":"Jan '21","g":0,"k":2.5,"v":3.63},
{"s":"Jan '22","g":0,"k":-10,"v":1.0},{"s":"Jan '22","g":0,"k":-9.9,"v":1.16},{"s":"Jan '22","g":0,"k":-9.77,"v":1.25},{"s":"Jan '22","g":0,"k":-9.63,"v":1.21},{"s":"Jan '22","g":0,"k":-9.45,"v":1.27},{"s":"Jan '22","g":0,"k":-9.27,"v":1.3},{"s":"Jan '22","g":0,"k":-9.18,"v":1.39},{"s":"Jan '22","g":0,"k":-9.04,"v":1.69},{"s":"Jan '22","g":0,"k":-8.86,"v":1.69},{"s":"Jan '22","g":0,"k":-8.73,"v":1.63},{"s":"Jan '22","g":0,"k":-8.54,"v":1.46},{"s":"Jan '22","g":0,"k":-8.45,"v":1.44},{"s":"Jan '22","g":0,"k":-8.27,"v":1.51},{"s":"Jan '22","g":0,"k":-8.09,"v":1.63},{"s":"Jan '22","g":0,"k":-7.91,"v":1.79},{"s":"Jan '22","g":0,"k":-7.77,"v":1.74},{"s":"Jan '22","g":0,"k":-7.64,"v":1.92},{"s":"Jan '22","g":0,"k":-7.55,"v":1.74},{"s":"Jan '22","g":0,"k":-7.41,"v":1.58},{"s":"Jan '22","g":0,"k":-7.28,"v":1.95},{"s":"Jan '22","g":0,"k":-7.14,"v":2.3},{"s":"Jan '22","g":0,"k":-6.92,"v":2.65},{"s":"Jan '22","g":0,"k":-6.65,"v":3.28},{"s":"Jan '22","g":0,"k":-6.46,"v":3.78},{"s":"Jan '22","g":0,"k":-6.33,"v":4.06},{"s":"Jan '22","g":0,"k":-6.19,"v":4.09},{"s":"Jan '22","g":0,"k":-6.06,"v":4.07},{"s":"Jan '22","g":0,"k":-5.83,"v":4.23},{"s":"Jan '22","g":0,"k":-5.74,"v":4.18},{"s":"Jan '22","g":0,"k":-5.61,"v":4.28},{"s":"Jan '22","g":0,"k":-5.51,"v":4.3},{"s":"Jan '22","g":0,"k":-5.38,"v":4.21},{"s":"Jan '22","g":0,"k":-5.24,"v":4.02},{"s":"Jan '22","g":0,"k":-5.11,"v":3.85},{"s":"Jan '22","g":0,"k":-5.04,"v":3.62},{"s":"Jan '22","g":0,"k":-4.93,"v":3.6},{"s":"Jan '22","g":0,"k":-4.7,"v":3.51},{"s":"Jan '22","g":0,"k":-4.52,"v":3.42},{"s":"Jan '22","g":0,"k":-4.43,"v":3.48},{"s":"Jan '22","g":0,"k":-4.25,"v":3.83},{"s":"Jan '22","g":0,"k":-4.16,"v":3.79},{"s":"Jan '22","g":0,"k":-3.98,"v":4.02},{"s":"Jan '22","g":0,"k":-3.84,"v":4.25},{"s":"Jan '22","g":0,"k":-3.75,"v":4.32},{"s":"Jan '22","g":0,"k":-3.62,"v":4.3},{"s":"Jan '22","g":0,"k":-3.48,"v":4.37},{"s":"Jan '22","g":0,"k":-3.34,"v":4.62},{"s":"Jan '22","g":0,"k":-3.16,"v":4.83},{"s":"Jan '22","g":0,"k":-2.98,"v":4.51},{"s":"Jan '22","g":0,"k":-2.87,"v":4.57},{"s":"Jan '22","g":0,"k":-2.76,"v":4.27},{"s":"Jan '22","g":0,"k":-2.67,"v":4.0},{"s":"Jan '22","g":0,"k":-2.58,"v":4.09},
{"s":"Feb '91","g":0,"k":-10,"v":1.26},{"s":"Feb '91","g":0,"k":-9.9,"v":1.31},{"s":"Feb '91","g":0,"k":-9.81,"v":1.34},{"s":"Feb '91","g":0,"k":-9.72,"v":1.31},{"s":"Feb '91","g":0,"k":-9.63,"v":1.28},{"s":"Feb '91","g":0,"k":-9.54,"v":1.32},{"s":"Feb '91","g":0,"k":-9.45,"v":1.35},{"s":"Feb '91","g":0,"k":-9.36,"v":1.37},{"s":"Feb '91","g":0,"k":-9.27,"v":1.37},{"s":"Feb '91","g":0,"k":-9.15,"v":1.35},{"s":"Feb '91","g":0,"k":-9.02,"v":1.34},{"s":"Feb '91","g":0,"k":-8.9,"v":1.35},{"s":"Feb '91","g":0,"k":-8.77,"v":1.36},{"s":"Feb '91","g":0,"k":-8.59,"v":1.47},{"s":"Feb '91","g":0,"k":-8.4,"v":1.48},{"s":"Feb '91","g":0,"k":-8.2,"v":1.5},{"s":"Feb '91","g":0,"k":-8.05,"v":1.52},{"s":"Feb '91","g":0,"k":-7.9,"v":1.54},{"s":"Feb '91","g":0,"k":-7.7,"v":1.56},{"s":"Feb '91","g":0,"k":-7.5,"v":1.58},{"s":"Feb '91","g":0,"k":-7.37,"v":1.63},{"s":"Feb '91","g":0,"k":-7.23,"v":1.71},{"s":"Feb '91","g":0,"k":-7.08,"v":1.79},{"s":"Feb '91","g":0,"k":-6.92,"v":1.88},{"s":"Feb '91","g":0,"k":-6.78,"v":1.98},{"s":"Feb '91","g":0,"k":-6.65,"v":2.09},{"s":"Feb '91","g":0,"k":-6.56,"v":2.05},{"s":"Feb '91","g":0,"k":-6.46,"v":2.02},{"s":"Feb '91","g":0,"k":-6.35,"v":2.01},{"s":"Feb '91","g":0,"k":-6.24,"v":2.0},{"s":"Feb '91","g":0,"k":-6.13,"v":2.03},{"s":"Feb '91","g":0,"k":-6.02,"v":2.04},{"s":"Feb '91","g":0,"k":-5.9,"v":2.05},{"s":"Feb '91","g":0,"k":-5.79,"v":2.06},{"s":"Feb '91","g":0,"k":-5.7,"v":2.0},{"s":"Feb '91","g":0,"k":-5.61,"v":1.95},{"s":"Feb '91","g":0,"k":-5.52,"v":1.92},{"s":"Feb '91","g":0,"k":-5.43,"v":1.88},{"s":"Feb '91","g":0,"k":-5.33,"v":1.86},{"s":"Feb '91","g":0,"k":-5.24,"v":1.85},{"s":"Feb '91","g":0,"k":-5.15,"v":1.83},{"s":"Feb '91","g":0,"k":-5.02,"v":1.86},{"s":"Feb '91","g":0,"k":-4.88,"v":1.88},{"s":"Feb '91","g":0,"k":-4.75,"v":1.97},{"s":"Feb '91","g":0,"k":-4.63,"v":2.04},{"s":"Feb '91","g":0,"k":-4.52,"v":2.02},{"s":"Feb '91","g":0,"k":-4.38,"v":1.99},{"s":"Feb '91","g":0,"k":-4.25,"v":1.95},{"s":"Feb '91","g":0,"k":-4.11,"v":1.92},{"s":"Feb '91","g":0,"k":-3.98,"v":1.92},{"s":"Feb '91","g":0,"k":-3.87,"v":1.95},
{"s":"Feb '91","g":1,"k":-3.66,"v":1.97},{"s":"Feb '91","g":1,"k":-3.57,"v":1.92},{"s":"Feb '91","g":1,"k":-3.46,"v":1.83},{"s":"Feb '91","g":1,"k":-3.35,"v":1.81},{"s":"Feb '91","g":1,"k":-3.21,"v":1.78},{"s":"Feb '91","g":1,"k":-3.1,"v":1.76},{"s":"Feb '91","g":1,"k":-2.98,"v":1.74},
{"s":"Feb '91","g":2,"k":-1.79,"v":1.72},{"s":"Feb '91","g":2,"k":-1.69,"v":1.65},{"s":"Feb '91","g":2,"k":-1.57,"v":1.58},{"s":"Feb '91","g":2,"k":-1.45,"v":1.51},{"s":"Feb '91","g":2,"k":-1.36,"v":1.44},{"s":"Feb '91","g":2,"k":-1.27,"v":1.4},
{"s":"Feb '91","g":3,"k":-0.88,"v":1.14},{"s":"Feb '91","g":3,"k":-0.77,"v":1.03},{"s":"Feb '91","g":3,"k":-0.68,"v":0.95},{"s":"Feb '91","g":3,"k":-0.58,"v":1.09},{"s":"Feb '91","g":3,"k":-0.48,"v":1.19},{"s":"Feb '91","g":3,"k":-0.38,"v":1.32},{"s":"Feb '91","g":3,"k":-0.28,"v":1.48},{"s":"Feb '91","g":3,"k":-0.15,"v":1.54},{"s":"Feb '91","g":3,"k":-0.1,"v":1.53},{"s":"Feb '91","g":3,"k":0.03,"v":1.44},{"s":"Feb '91","g":3,"k":0.13,"v":1.53},
{"s":"Feb '91","g":4,"k":1.22,"v":1.12},
{"s":"Feb '91","g":5,"k":3.5,"v":1.23},{"s":"Feb '91","g":5,"k":3.63,"v":1.27},{"s":"Feb '91","g":5,"k":3.76,"v":1.24},{"s":"Feb '91","g":5,"k":3.88,"v":1.24},{"s":"Feb '91","g":5,"k":3.98,"v":1.24},{"s":"Feb '91","g":5,"k":4.11,"v":1.21},{"s":"Feb '91","g":5,"k":4.21,"v":1.29},{"s":"Feb '91","g":5,"k":4.31,"v":1.46},{"s":"Feb '91","g":5,"k":4.39,"v":1.37},{"s":"Feb '91","g":5,"k":4.49,"v":1.35},{"s":"Feb '91","g":5,"k":4.61,"v":1.46},{"s":"Feb '91","g":5,"k":4.74,"v":1.44},{"s":"Feb '91","g":5,"k":4.84,"v":1.43},{"s":"Feb '91","g":5,"k":4.97,"v":1.42}]
},
"vconcat":[
{"width":1103,"height":540,
"resolve":{"scale":{"y":"independent"},"axis":{"y":"independent"}},
"layer":[
{"layer":[
{"data":{"name":"surf"},"mark":{"type":"area","color":"#e3f7fd"},
"encoding":{"x":{"field":"k","type":"quantitative","scale":{"domain":[-10,5],"nice":false,"zero":false},
"axis":{"values":[-10,-9,-8,-7,-6,-5,-4,-3,-2,-1,0,1,2,3,4,5],"labelExpr":"datum.value % 5 === 0 ? '' + datum.value : ''","tickSize":-11,"labelPadding":25,"title":null}},
"y":{"field":"r","type":"quantitative","scale":{"domain":[-500,2611],"nice":false,"zero":false},
"axis":{"values":[-500,0,500,1000],"labelExpr":"'' + datum.value","tickSize":-11,"domain":false,"labelPadding":20,"title":"Elevation (m)","titleX":-79,"titleY":410,"titleAngle":270,"titleAlign":"center","titleBaseline":"middle"}},
"y2":{"datum":-500}}},
{"data":{"name":"bed"},"mark":{"type":"area","color":"#ffffff"},
"encoding":{"x":{"field":"k","type":"quantitative"},"y":{"field":"b","type":"quantitative"},"y2":{"datum":-500}}},
{"data":{"name":"surf"},"transform":[{"filter":"datum.c != null"}],"mark":{"type":"area","color":"#cde0e8"},
"encoding":{"x":{"field":"k","type":"quantitative"},"y":{"field":"c","type":"quantitative"},"y2":{"field":"r"}}},
{"data":{"name":"surf"},"mark":{"type":"line","color":"#0000ff","strokeWidth":1},
"encoding":{"x":{"field":"k","type":"quantitative"},"y":{"field":"r","type":"quantitative"}}},
{"data":{"name":"surf"},"transform":[{"filter":"datum.c != null"}],"mark":{"type":"line","color":"#0000ff","strokeWidth":1,"strokeDash":[5,4]},
"encoding":{"x":{"field":"k","type":"quantitative"},"y":{"field":"c","type":"quantitative"}}},
{"data":{"name":"bed"},"transform":[{"filter":"datum.p == 's'"}],"mark":{"type":"line","color":"#8f7262","strokeWidth":1.2},
"encoding":{"x":{"field":"k","type":"quantitative"},"y":{"field":"b","type":"quantitative"}}},
{"data":{"name":"bed"},"transform":[{"filter":"datum.p == 'd'"}],"mark":{"type":"line","color":"#8c6e5e","strokeWidth":4.5,"strokeCap":"round","strokeDash":[0.1,7.4]},
"encoding":{"x":{"field":"k","type":"quantitative"},"y":{"field":"b","type":"quantitative"}}},
{"data":{"values":[{}]},"mark":{"type":"rule","color":"#262626","strokeWidth":1},
"encoding":{"x":{"datum":-10,"type":"quantitative"},"y":{"datum":-500,"type":"quantitative"},"y2":{"datum":1000}}},
{"data":{"name":"arrA"},"mark":{"type":"rule","color":"#000000","strokeWidth":4},
"encoding":{"x":{"field":"k","type":"quantitative"},"y":{"field":"a1","type":"quantitative"},"y2":{"field":"a2"}}},
{"data":{"name":"arrA"},"mark":{"type":"point","shape":"M-1,-1L1,-1L0,1Z","filled":true,"color":"#000000","size":196,"opacity":1},
"encoding":{"x":{"field":"k","type":"quantitative"},"y":{"field":"hy","type":"quantitative"}}},
{"data":{"name":"arrA"},"mark":{"type":"text","fontSize":25,"fontWeight":"bold","baseline":"middle","align":"center","color":"#000000"},
"encoding":{"x":{"field":"k","type":"quantitative"},"y":{"field":"ty","type":"quantitative"},"text":{"field":"t"}}}
]},
{"layer":[
{"data":{"name":"spd"},"transform":[{"filter":"datum.s != \"Feb '91\""}],"mark":{"type":"line","strokeWidth":4.5,"strokeJoin":"round","strokeCap":"round"},
"encoding":{"x":{"field":"k","type":"quantitative"},
"y":{"field":"v","type":"quantitative","scale":{"domain":[-0.684,5],"nice":false,"zero":false},
"axis":{"orient":"right","offset":27,"values":[0,1,2,3,4,5],"labelExpr":"'' + datum.value","tickSize":-13,"domain":false,"labelPadding":19,"title":"Ice Speed (km/yr)","titleX":43,"titleY":238,"titleAngle":270,"titleAlign":"center","titleBaseline":"middle"}},
"color":{"field":"s","type":"nominal","scale":{"domain":["Feb '91","Nov '10","Jan '15","Jan '16","Jan '17","Jan '18","Jan '19","Jan '20","Jan '21","Jan '22"],"range":["#000000","#000000","#4330bc","#4b5cf5","#2d8cf0","#14afdc","#32c8a5","#8cc846","#f5b43c","#f5e623"]},
"legend":{"orient":"none","legendX":20,"legendY":15,"title":null,"symbolType":"stroke","symbolSize":4900,"symbolStrokeWidth":4.5,"clipHeight":26,"rowPadding":0,"padding":4,"symbolOffset":31.5,"labelOffset":31.5,"labelFontSize":19,"labelColor":"#000000","strokeColor":"#262626","fillColor":"#ffffff",
"encode":{"symbols":{"update":{"shape":{"signal":"datum.value === \"Feb '91\" ? 'M-1,0H1M-0.14,-0.14L0.14,0.14M-0.14,0.14L0.14,-0.14' : 'stroke'"},"size":{"value":4900},"strokeWidth":{"signal":"datum.value === \"Feb '91\" ? 1 : 4.5"},"fill":{"value":"transparent"},"opacity":{"value":1}}}}}},
"detail":{"field":"g"}}},
{"data":{"name":"spd"},"transform":[{"filter":"datum.s == \"Feb '91\""}],"mark":{"type":"line","strokeWidth":1},
"encoding":{"x":{"field":"k","type":"quantitative"},"y":{"field":"v","type":"quantitative"},"color":{"field":"s","type":"nominal"},"detail":{"field":"g"}}},
{"data":{"name":"spd"},"transform":[{"filter":"datum.s == \"Feb '91\""}],"mark":{"type":"point","shape":"M-1,-1L1,1M-1,1L1,-1","filled":false,"color":"#000000","strokeWidth":1,"size":100,"opacity":1},
"encoding":{"x":{"field":"k","type":"quantitative"},"y":{"field":"v","type":"quantitative"}}},
{"data":{"values":[{}]},"mark":{"type":"rule","color":"#262626","strokeWidth":1},
"encoding":{"x":{"datum":5.367,"type":"quantitative"},"y":{"datum":0,"type":"quantitative"},"y2":{"datum":5}}},
{"data":{"values":[{}]},"mark":{"type":"text","fontSize":36,"fontWeight":"bold","baseline":"middle","align":"center","color":"#000000"},
"encoding":{"x":{"datum":4.74,"type":"quantitative"},"y":{"datum":4.46,"type":"quantitative"},"text":{"value":"a"}}}
]}
]},
{"width":1106,"height":259,
"layer":[
{"data":{"name":"zones"},"mark":{"type":"rect","opacity":1},
"encoding":{"x":{"field":"k1","type":"quantitative","scale":{"domain":[-10,5],"nice":false,"zero":false},
"axis":{"values":[-10,-9,-8,-7,-6,-5,-4,-3,-2,-1,0,1,2,3,4,5],"labelExpr":"datum.value % 5 === 0 ? '' + datum.value : ''","tickSize":-11,"labelPadding":22,"title":"Distance Relative to ASAID GL (km)","titlePadding":4}},
"x2":{"field":"k2"},
"y":{"datum":0,"type":"quantitative","scale":{"domain":[0,400],"nice":false,"zero":false},
"axis":{"values":[0,100,200,300,400],"labelExpr":"'' + datum.value","tickSize":-10,"labelPadding":19,"title":"Elevation (m)","titleX":-59,"titleY":129.5,"titleAngle":270,"titleAlign":"center","titleBaseline":"middle"}},
"y2":{"datum":400},
"color":{"field":"item","type":"nominal","scale":{"domain":["Inland speed area","Shelf speed area","REMA DEM '15","Cook DEM '00-'09","Flux gate","2015 GL"],"range":["#f3e3e2","#e4e4f4","#0000ff","#0000ff","#000000","#ff00ff"]},
"legend":{"orient":"none","legendX":27,"legendY":-2,"title":null,"symbolType":"stroke","symbolSize":5476,"clipHeight":25,"rowPadding":0,"padding":4.5,"symbolOffset":32,"labelOffset":32,"labelFontSize":19.5,"labelColor":"#000000","strokeColor":"#262626","fillColor":"#ffffff",
"encode":{"symbols":{"update":{
"shape":{"signal":"datum.value === 'Inland speed area' || datum.value === 'Shelf speed area' ? 'M-1,-0.27H1V0.27H-1Z' : 'stroke'"},
"size":{"value":5476},
"fill":{"signal":"datum.value === 'Inland speed area' ? '#f3e3e2' : datum.value === 'Shelf speed area' ? '#e4e4f4' : 'transparent'"},
"stroke":{"signal":"datum.value === 'Flux gate' ? '#000000' : datum.value === '2015 GL' ? '#ff00ff' : (datum.value === 'Inland speed area' || datum.value === 'Shelf speed area') ? 'transparent' : '#0000ff'"},
"strokeWidth":{"signal":"datum.value === 'Flux gate' || datum.value === '2015 GL' ? 5 : 1"},
"strokeDash":{"signal":"datum.value === \"Cook DEM '00-'09\" ? [5,4] : (datum.value === 'Flux gate' || datum.value === '2015 GL') ? [16,18] : [1,0]"},
"opacity":{"value":1}}}}}}}},
{"data":{"name":"gates"},"mark":{"type":"rule","strokeWidth":4.5,"strokeDash":[14,9]},
"encoding":{"x":{"field":"k","type":"quantitative"},"y":{"datum":0,"type":"quantitative"},"y2":{"datum":400},
"color":{"field":"item","type":"nominal",
"legend":{"orient":"none","legendX":27,"legendY":-2,"title":null,"symbolType":"stroke","symbolSize":5476,"clipHeight":25,"rowPadding":0,"padding":4.5,"symbolOffset":32,"labelOffset":32,"labelFontSize":19.5,"labelColor":"#000000","strokeColor":"#262626","fillColor":"#ffffff",
"encode":{"symbols":{"update":{
"shape":{"signal":"datum.value === 'Inland speed area' || datum.value === 'Shelf speed area' ? 'M-1,-0.27H1V0.27H-1Z' : 'stroke'"},
"size":{"value":5476},
"fill":{"signal":"datum.value === 'Inland speed area' ? '#f3e3e2' : datum.value === 'Shelf speed area' ? '#e4e4f4' : 'transparent'"},
"stroke":{"signal":"datum.value === 'Flux gate' ? '#000000' : datum.value === '2015 GL' ? '#ff00ff' : (datum.value === 'Inland speed area' || datum.value === 'Shelf speed area') ? 'transparent' : '#0000ff'"},
"strokeWidth":{"signal":"datum.value === 'Flux gate' || datum.value === '2015 GL' ? 5 : 1"},
"strokeDash":{"signal":"datum.value === \"Cook DEM '00-'09\" ? [5,4] : (datum.value === 'Flux gate' || datum.value === '2015 GL') ? [16,18] : [1,0]"},
"opacity":{"value":1}}}}}}}},
{"data":{"name":"surf"},"mark":{"type":"line","strokeWidth":1,"clip":true,"color":"#0000ff"},
"encoding":{"x":{"field":"k","type":"quantitative"},"y":{"field":"r","type":"quantitative"}}},
{"data":{"name":"surf"},"transform":[{"filter":"datum.c != null"}],"mark":{"type":"line","strokeWidth":1,"strokeDash":[5,4],"clip":true,"color":"#0000ff"},
"encoding":{"x":{"field":"k","type":"quantitative"},"y":{"field":"c","type":"quantitative"}}},
{"data":{"name":"arrB"},"mark":{"type":"rule","color":"#000000","strokeWidth":4},
"encoding":{"x":{"field":"k","type":"quantitative"},"y":{"field":"a1","type":"quantitative"},"y2":{"field":"a2"}}},
{"data":{"name":"arrB"},"mark":{"type":"point","shape":"M-1,-1L1,-1L0,1Z","filled":true,"color":"#000000","size":196,"opacity":1},
"encoding":{"x":{"field":"k","type":"quantitative"},"y":{"field":"hy","type":"quantitative"}}},
{"data":{"name":"arrB"},"mark":{"type":"text","fontSize":25,"fontWeight":"bold","baseline":"middle","align":"center","color":"#000000"},
"encoding":{"x":{"field":"k","type":"quantitative"},"y":{"field":"ty","type":"quantitative"},"text":{"field":"t"}}},
{"data":{"values":[{}]},"mark":{"type":"text","fontSize":36,"fontWeight":"bold","baseline":"middle","align":"center","color":"#000000"},
"encoding":{"x":{"datum":4.67,"type":"quantitative"},"y":{"datum":357,"type":"quantitative"},"text":{"value":"b"}}}
]}
]
}
